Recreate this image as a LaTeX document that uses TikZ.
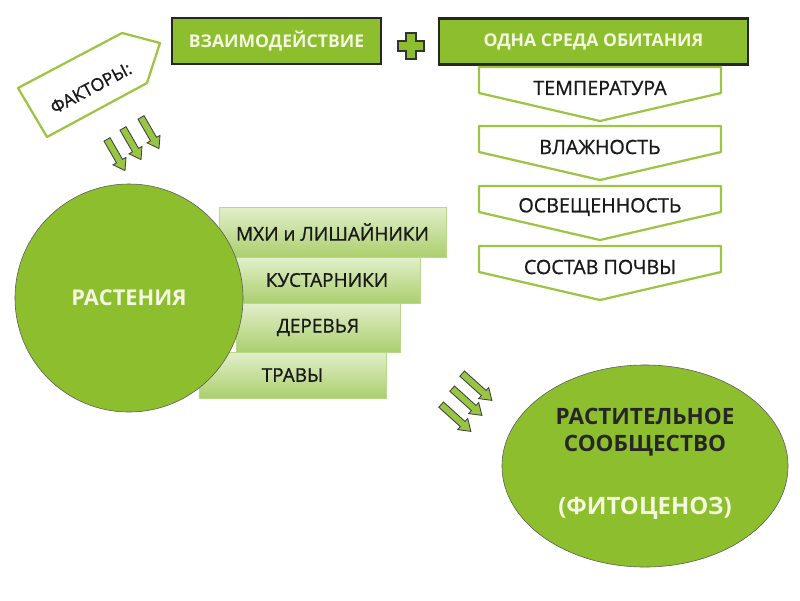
\documentclass[tikz,border=0pt]{standalone}
\usepackage{fontspec}
\setmainfont{Open Sans}
\newfontfamily\medfont[FakeBold=0.9]{Open Sans}
\usepackage{xcolor}
\usetikzlibrary{shapes.geometric, positioning}

\definecolor{leaf}{HTML}{8DBE2E}
\definecolor{cream}{HTML}{F4F8E0}
\definecolor{chevline}{HTML}{9CC543}
\definecolor{steptop}{HTML}{E2EFCA}
\definecolor{stepbot}{HTML}{ABCF6E}
\definecolor{stepline}{HTML}{B9D88A}

\begin{document}
\begin{tikzpicture}[x=0.025cm, y=-0.025cm,
  title/.style={draw=black!85, line width=1.6pt, fill=leaf, text=cream, minimum height=1.15cm, inner sep=0pt, font=\fontsize{12.5}{14}\selectfont\bfseries},
  chev/.style={draw=chevline, line width=1.6pt, fill=white, line join=round},
  chevtext/.style={text=black!90, font=\medfont\fontsize{14}{16}\selectfont},
  stepbox/.style={draw=stepline, thin, top color=steptop, bottom color=stepbot, inner sep=0pt, text=black!90, font=\medfont\fontsize{13.5}{15}\selectfont},
  blob/.style={draw=black!65, thin, fill=leaf, inner sep=0pt},
  darr/.style={draw=black!75, fill=leaf!90!white, line width=0.6pt, line join=miter}
]
  \useasboundingbox (0,0) rectangle (800,600);

  % Top boxes and plus
  \node[title, minimum width=5.225cm] (inter) at (276.5,41) {ВЗАИМОДЕЙСТВИЕ};
  \node[title, minimum width=7.725cm] (habitat) at (593.5,41.5) {ОДНА СРЕДА ОБИТАНИЯ};
  \draw[fill=leaf, draw=black!80, line width=0.8pt]
    (406,33) -- (416,33) -- (416,41) -- (424,41) -- (424,51) -- (416,51) -- (416,59)
    -- (406,59) -- (406,51) -- (398,51) -- (398,41) -- (406,41) -- cycle;

  % Chevrons under the habitat box
  \foreach \t/\lbl [count=\i] in {67/ТЕМПЕРАТУРА, 126/ВЛАЖНОСТЬ, 186/ОСВЕЩЕННОСТЬ, 246/СОСТАВ ПОЧВЫ} {
    \draw[chev] (479,\t) -- (721,\t) -- (721,\t+26) -- (600,\t+54) -- (479,\t+26) -- cycle;
    \node[chevtext] (env\i) at (600,\t+21) {\lbl};
  }

  % Factors tag
  \draw[chevline, line width=1.6pt, fill=white, line join=round]
    (18,88) -- (122,33) -- (160,43) -- (147,83) -- (47,137) -- cycle;
  \node[rotate=28, text=black!90, font=\medfont\fontsize{12.5}{14}\selectfont] (fact) at (91,88) {ФАКТОРЫ:};

  % Block arrows (centre x / centre y / angle / length)
  \foreach \cx/\cy/\a/\len in {116/155/-60/36, 132/144/-60/36, 150/133/-60/36,
                               477/387/-42/40, 467/402/-42/40, 456/418/-42/40} {
    \draw[darr, shift={(\cx,\cy)}, rotate=\a]
      (-\len/2,-3.5) -- (\len/2-11,-3.5) -- (\len/2-11,-7.5) -- (\len/2,0)
      -- (\len/2-11,7.5) -- (\len/2-11,3.5) -- (-\len/2,3.5) -- cycle;
  }

  % Layers of plants
  \node[stepbox, minimum width=5.675cm, minimum height=1.25cm] (moss) at (332.5,232) {МХИ и ЛИШАЙНИКИ};
  \node[stepbox, minimum width=4.65cm, minimum height=1.15cm] (shrub) at (327,280) {КУСТАРНИКИ};
  \node[stepbox, minimum width=4.1cm, minimum height=1.225cm] (tree) at (318,327.5) {ДЕРЕВЬЯ};
  \node[stepbox, minimum width=4.675cm, minimum height=1.15cm] (grass) at (292.5,375) {ТРАВЫ};

  % Plants
  \node[blob, circle, minimum size=5.7cm, text=cream, font=\fontsize{15.5}{17}\selectfont\bfseries] (plants) at (129,298) {РАСТЕНИЯ};

  % Plant community
  \node[blob, ellipse, minimum width=7.15cm, minimum height=5.05cm] (phyto) at (645,466) {};
  \node[text=black!85, font=\fontsize{16}{18}\selectfont\bfseries] (name1) at (645,416) {РАСТИТЕЛЬНОЕ};
  \node[text=black!85, font=\fontsize{16}{18}\selectfont\bfseries] (name2) at (645,446) {СООБЩЕСТВО};
  \node[text=cream, font=\fontsize{17}{19}\selectfont\bfseries] (name3) at (645,508) {(ФИТОЦЕНОЗ)};
\end{tikzpicture}
\end{document}
